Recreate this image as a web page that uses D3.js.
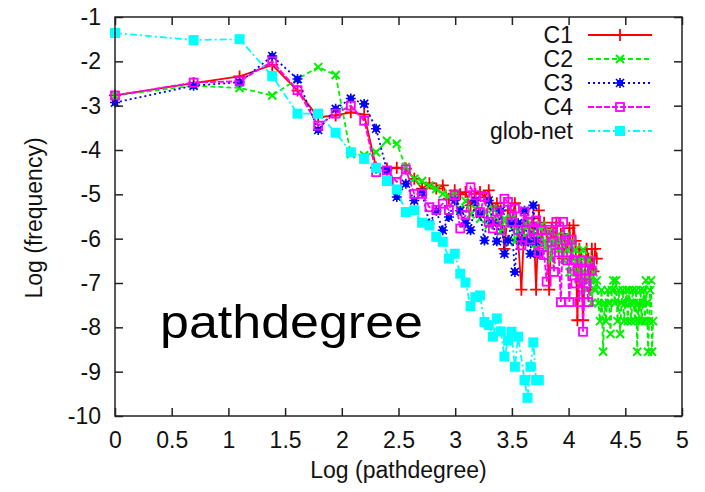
<!DOCTYPE html>
<html><head><meta charset="utf-8">
<script src="https://cdn.jsdelivr.net/npm/d3@7"></script>
<style>
html,body{margin:0;padding:0;background:#fff;}
text{font-family:"Liberation Sans",Arial,Helvetica,sans-serif;}
</style></head>
<body><svg id="c" width="705" height="492"></svg>
<script>
// path degrees (x is log of degree)
const degrees = [1,2,3,4,5,6,7,8,9,10,11,12,13,14,15,16,17,18,19,20,
 21,22,23,24,25,26,27,28,29,30,31,32,33,34,35,36,37,38,39,40,
 41,42,43,44,45,46,47,48,49,50,51,52,53,54,55,56,57,58,59,60,
 61,62,63,64,65,66,67,68,69,70,71,72,73,74,75,76,77,78,79,80,
 81,82,83,84,85,86,87,88,89,90,91,92,93,94,95,96,97,98,99,100,
 101,102,103,104,105,106,107,108,109,110,111,112,113,114,115];

const c1 = [-2.77,-2.49,-2.34,-2.08,-2.66,-3.26,-3.22,-3.15,-3.20,-4.40,
 -4.42,-4.40,-4.42,-4.65,-4.87,-4.75,-4.87,-4.80,-5.10,-4.91,
 -5.00,-4.95,-5.25,-4.99,-4.95,-5.07,-4.91,-5.32,-5.20,-5.36,
 -6.23,-5.36,-5.64,-5.20,-6.05,-7.15,-5.64,-5.64,-5.76,-5.54,
 -7.15,-5.36,-6.05,-5.64,-5.89,-7.15,-5.76,-6.05,-5.64,-6.23,
 -5.89,-6.45,-6.05,-6.23,-5.76,-6.45,-5.70,-6.05,-7.84,-6.23,
 -6.45,-7.84,-6.74,-6.23,-6.45,-7.15,-6.23,-6.74,-6.23,-6.45];

const c2 = [-2.77,-2.55,-2.60,-2.77,-2.40,-2.13,-2.31,-4.09,-4.12,-4.05,
 -3.79,-3.86,-4.38,-4.65,-4.70,-4.80,-4.88,-4.99,-5.05,-4.99,
 -5.33,-5.15,-5.45,-5.33,-5.55,-5.40,-5.70,-5.33,-5.60,-5.84,
 -5.55,-5.70,-5.55,-6.07,-5.84,-5.70,-5.95,-5.60,-6.07,-5.84,
 -6.25,-5.95,-5.70,-6.07,-6.25,-5.84,-6.47,-6.07,-5.95,-6.25,
 -6.07,-6.47,-5.95,-6.25,-6.76,-6.07,-6.47,-6.25,-6.76,-6.47,
 -6.94,-6.25,-6.76,-7.16,-6.47,-6.94,-7.45,-6.76,-7.16,-6.94,
 -7.45,-7.86,-7.16,-8.55,-7.45,-7.86,-7.16,-7.45,-8.15,-7.16,
 -6.94,-7.45,-6.94,-7.86,-7.16,-8.15,-7.45,-7.16,-7.86,-7.45,
 -7.16,-7.86,-7.16,-7.45,-7.86,-7.16,-7.45,-7.86,-7.16,-8.55,
 -7.45,-7.86,-7.16,-7.86,-7.45,-7.16,-7.86,-6.94,-7.45,-8.55,
 -7.86,-7.16,-6.94,-8.55,-7.86];

const c3 = [-2.93,-2.55,-2.47,-1.88,-2.40,-3.55,-3.07,-2.84,-2.96,-3.52,
 -4.46,-5.06,-4.76,-5.14,-4.96,-5.66,-5.37,-5.81,-5.51,-5.14,
 -5.37,-5.65,-5.81,-5.14,-5.44,-6.04,-5.14,-5.65,-6.06,-5.37,
 -6.34,-6.04,-5.65,-6.75,-5.65,-6.06,-5.37,-6.06,-6.34,-5.25,
 -6.06,-6.34];

const c4 = [-2.77,-2.48,-2.45,-2.00,-2.65,-3.45,-3.18,-3.00,-3.34,-4.50,
 -4.46,-4.72,-4.44,-4.99,-4.99,-5.29,-5.35,-5.21,-5.35,-5.02,
 -5.77,-5.47,-4.84,-5.02,-5.40,-5.06,-5.62,-5.77,-5.39,-5.80,
 -5.10,-5.17,-5.62,-5.32,-5.80,-6.15,-5.39,-5.62,-6.02,-5.80,
 -5.59,-6.31,-5.81,-6.37,-6.97,-5.80,-6.07,-6.75,-5.62,-6.31,
 -7.43,-5.62,-6.04,-6.49,-7.43,-6.02,-6.49,-7.01,-6.72,-7.43,
 -6.49,-8.10,-6.72,-7.01,-7.43,-6.51,-6.72];

const globNet = [-1.36,-1.52,-1.50,-2.33,-3.18,-3.18,-3.61,-4.05,-4.20,-4.40,
 -4.70,-4.89,-5.40,-5.36,-5.64,-5.70,-5.96,-6.07,-6.45,-6.34,
 -6.79,-6.99,-7.52,-7.32,-7.28,-7.88,-7.95,-8.21,-7.80,-8.09,
 -8.66,-8.30,-8.10,-8.89,-8.21,null,-9.19,-9.59,-8.89,-8.34,
 -9.19,-9.19];

const seriesNames = ["C1","C2","C3","C4","glob-net"];
const xTicks = [0,0.5,1,1.5,2,2.5,3,3.5,4,4.5,5];
const yTicks = [-1,-2,-3,-4,-5,-6,-7,-8,-9,-10];
const xTitle = "Log (pathdegree)";
const yTitle = "Log (frequency)";
const annotation = "pathdegree";

const styles = {
  "C1":      {color:"#ff0000", dash:null,        marker:"plus"},
  "C2":      {color:"#00f000", dash:"5,3",       marker:"cross"},
  "C3":      {color:"#0000ff", dash:"2,3",       marker:"star"},
  "C4":      {color:"#ff00ff", dash:"6,2",       marker:"box"},
  "glob-net":{color:"#00ffff", dash:"7,3,2,3",   marker:"fbox"}
};
const seriesData = {"C1":c1,"C2":c2,"C3":c3,"C4":c4,"glob-net":globNet};

const svg = d3.select("#c");
svg.append("rect").attr("width",705).attr("height",492).attr("fill","#fff");
const L=115,R=682,T=17,B=416;
const x = d3.scaleLinear().domain([0,5]).range([L,R]);
const y = d3.scaleLinear().domain([-10,-1]).range([B,T]);

function drawMarker(g, type, color){
  if(type==="plus"){
    g.append("path").attr("d","M-6,0H6M0,-6V6").attr("stroke",color).attr("stroke-width",1.8).attr("fill","none");
  } else if(type==="cross"){
    g.append("path").attr("d","M-4,-4L4,4M-4,4L4,-4").attr("stroke",color).attr("stroke-width",2).attr("fill","none");
  } else if(type==="star"){
    g.append("rect").attr("x",-3).attr("y",-3).attr("width",6).attr("height",6).attr("fill",color);
    g.append("path").attr("d","M-5,0H5M0,-5V5M-4,-4L4,4M-4,4L4,-4").attr("stroke",color).attr("stroke-width",1.6).attr("fill","none");
  } else if(type==="box"){
    g.append("rect").attr("x",-4).attr("y",-4).attr("width",8).attr("height",8).attr("fill","none").attr("stroke",color).attr("stroke-width",1.8);
  } else if(type==="fbox"){
    g.append("rect").attr("x",-5).attr("y",-5).attr("width",10).attr("height",10).attr("fill",color);
  }
}

const plot = svg.append("g");
seriesNames.forEach(name=>{
  const st = styles[name];
  const pts = seriesData[name].map((v,i)=>({d:degrees[i], v:v})).filter(p=>p.v!==null);
  const line = d3.line().x(p=>x(Math.log(p.d))).y(p=>y(p.v));
  plot.append("path").datum(pts).attr("d",line).attr("fill","none")
    .attr("stroke",st.color).attr("stroke-width",1.8)
    .attr("stroke-dasharray",st.dash);
  pts.forEach(p=>{
    const g = plot.append("g").attr("transform",`translate(${x(Math.log(p.d))},${y(p.v)})`);
    drawMarker(g, st.marker, st.color);
  });
});

// axes (ticks inside, mirrored)
const fmt = d=>String(d);
const axB = svg.append("g").attr("transform",`translate(0,${B})`)
  .call(d3.axisBottom(x).tickValues(xTicks).tickSize(-8).tickPadding(16).tickFormat(fmt));
const axL = svg.append("g").attr("transform",`translate(${L},0)`)
  .call(d3.axisLeft(y).tickValues(yTicks).tickSize(-8).tickPadding(14).tickFormat(fmt));
const axT = svg.append("g").attr("transform",`translate(0,${T})`)
  .call(d3.axisTop(x).tickValues(xTicks).tickSize(-8).tickFormat(""));
const axR = svg.append("g").attr("transform",`translate(${R},0)`)
  .call(d3.axisRight(y).tickValues(yTicks).tickSize(-8).tickFormat(""));
[axB,axL,axT,axR].forEach(a=>{
  a.select(".domain").remove();
  a.selectAll(".tick line").attr("stroke","#222").attr("stroke-width",1.5);
  a.selectAll(".tick text").attr("fill","#111").style("font-size","23px")
   .style("font-family",'"Liberation Sans",Arial,Helvetica,sans-serif');
});
svg.append("rect").attr("x",L).attr("y",T).attr("width",R-L).attr("height",B-T)
  .attr("fill","none").attr("stroke","#222").attr("stroke-width",1.5);

// legend
const legY0 = 35, legDy = 24;
seriesNames.forEach((name,i)=>{
  const st = styles[name];
  const yy = legY0 + i*legDy;
  svg.append("text").attr("x",573).attr("y",yy).attr("dy","0.36em").attr("text-anchor","end")
    .style("font-size","23px").attr("fill","#111").text(name);
  svg.append("line").attr("x1",588).attr("x2",652).attr("y1",yy).attr("y2",yy)
    .attr("stroke",st.color).attr("stroke-width",1.8).attr("stroke-dasharray",st.dash);
  drawMarker(svg.append("g").attr("transform",`translate(620,${yy})`), st.marker, st.color);
});

// titles
svg.append("text").attr("x",(L+R)/2).attr("y",478).attr("text-anchor","middle")
  .style("font-size","23px").attr("fill","#111").text(xTitle);
svg.append("text").attr("transform",`translate(42,218) rotate(-90)`).attr("text-anchor","middle")
  .style("font-size","23px").attr("fill","#111").text(yTitle);
svg.append("text").attr("x",160).attr("y",338).style("font-size","47px")
  .attr("textLength",263).attr("lengthAdjust","spacingAndGlyphs")
  .attr("fill","#000").text(annotation);
</script>
</body></html>
